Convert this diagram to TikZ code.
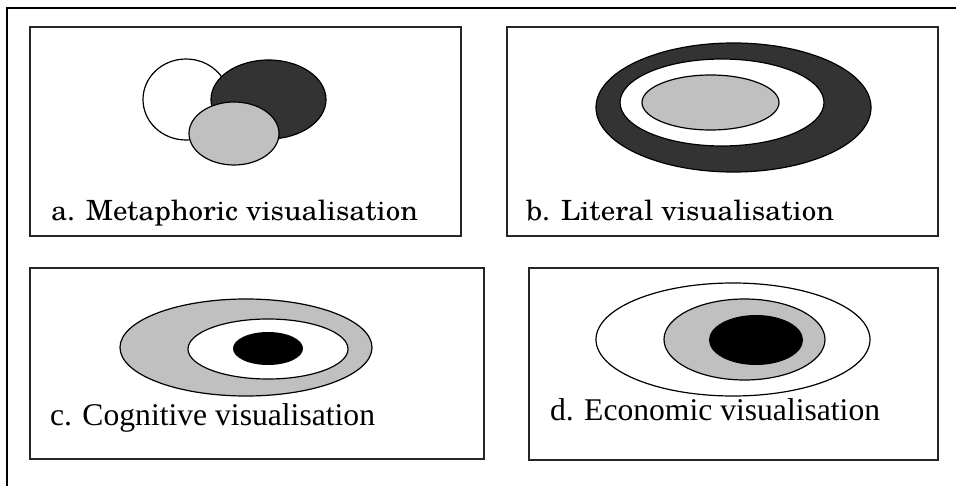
\documentclass[tikz,border=0pt]{standalone}
\usepackage{fontspec}
\setmainfont{Liberation Serif}
\newfontfamily\scholafont{TeX Gyre Schola}
\definecolor{darkfill}{HTML}{333333}
\definecolor{greyfill}{HTML}{C0C0C0}
\tikzset{
  frameline/.style={line width=2pt, black},
  panel/.style={line width=1.4pt, black!85},
  blob/.style={line width=1.2pt, draw=black},
  lbl/.style={anchor=base west, inner sep=0pt, outer sep=0pt}
}
\begin{document}
\begin{tikzpicture}[x=1pt,y=-1pt]
\useasboundingbox (0,0) rectangle (956,486);
\fill[white] (0,0) rectangle (956,486);
% outer frame (top and left)
\draw[frameline] (7,486) -- (7,8) -- (956,8);
% panels
\draw[panel] (30,27) rectangle (461,236);
\draw[panel] (507,27) rectangle (938,236);
\draw[panel] (30,268) rectangle (484,459);
\draw[panel] (529,268) rectangle (938,460);
% a. metaphoric
\draw[blob, fill=white] (186,99.5) ellipse [x radius=43, y radius=40.5];
\draw[blob, fill=darkfill] (268.5,99.5) ellipse [x radius=57.5, y radius=39.5];
\draw[blob, fill=greyfill] (234,133.5) ellipse [x radius=45, y radius=31.5];
\node[lbl] (la) at (51,220.5) {\resizebox{367pt}{20.5pt}{\scholafont a. Metaphoric visualisation}};
% b. literal
\draw[blob, fill=darkfill] (733.5,107.5) ellipse [x radius=137.5, y radius=64.5];
\draw[blob, fill=white] (722,102.5) ellipse [x radius=102, y radius=43.5];
\draw[blob, fill=greyfill] (710.5,102.5) ellipse [x radius=68.5, y radius=27.5];
\node[lbl] (lb) at (526,220.5) {\resizebox{308pt}{20.5pt}{\scholafont b. Literal visualisation}};
% c. cognitive
\draw[blob, fill=greyfill] (246,347.5) ellipse [x radius=126, y radius=48.5];
\draw[blob, fill=white] (268,349) ellipse [x radius=80, y radius=30];
\fill[black] (268,348.5) ellipse [x radius=35, y radius=16.5];
\node[lbl] (lc) at (50,425) {\resizebox{325pt}{!}{c. Cognitive visualisation}};
% d. economic
\draw[blob, fill=white] (733,339.5) ellipse [x radius=137, y radius=56.5];
\draw[blob, fill=greyfill] (744.5,339.5) ellipse [x radius=80.5, y radius=40.5];
\fill[black] (756,340) ellipse [x radius=47, y radius=25];
\node[lbl] (ld) at (550,420) {\resizebox{330pt}{!}{d. Economic visualisation}};
\end{tikzpicture}
\end{document}
